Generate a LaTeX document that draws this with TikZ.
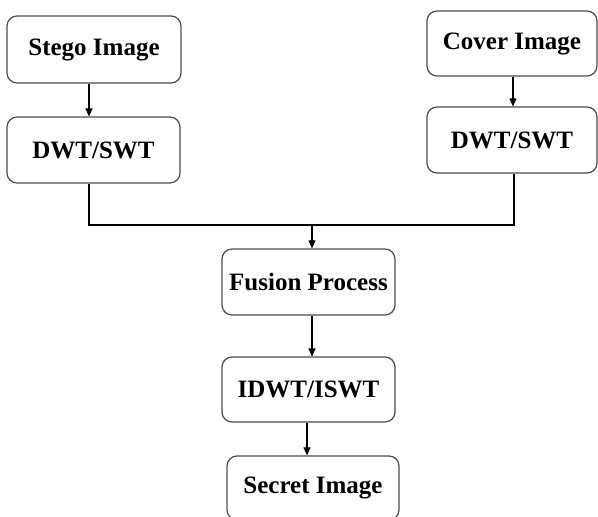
\documentclass[tikz,border=0pt]{standalone}
\usepackage{fontspec}
\setmainfont{Liberation Serif}
\usetikzlibrary{arrows.meta}
\tikzset{
  stepbox/.style={draw=black!70,line width=1.2pt,rounded corners=10pt,fill=white,
    inner sep=0pt,font=\fontsize{25}{30}\selectfont\bfseries},
  flow/.style={line width=1.1pt,-{Triangle[length=8pt,width=7pt]}}
}

\begin{document}
\begin{tikzpicture}[x=1pt,y=-1pt]
            \useasboundingbox (0,0) rectangle (598,517);

            % Left branch
            \node[stepbox,minimum width=174pt,minimum height=67pt] (stego) at (94,49.5) {Stego Image};
            \node[stepbox,minimum width=173pt,minimum height=66pt] (dwtA) at (93.5,150) {DWT/SWT};

            % Right branch
            \node[stepbox,minimum width=170pt,minimum height=65pt] (cover) at (512,43.5) {Cover Image};
            \node[stepbox,minimum width=170pt,minimum height=66pt] (dwtB) at (512,140) {DWT/SWT};

            % Common path
            \node[stepbox,minimum width=173pt,minimum height=66pt] (fusion) at (308.5,282) {Fusion Process};
            \node[stepbox,minimum width=173pt,minimum height=65pt] (idwt) at (308.5,389.5) {IDWT/ISWT};
            \node[stepbox,minimum width=172pt,minimum height=64pt] (secret) at (313,488) {Secret Image};

            \coordinate (merge) at (312,225);
            \coordinate (sA) at ([xshift=-5pt]stego.south);
            \coordinate (sB) at ([xshift=1pt]cover.south);
            \coordinate (dA) at ([xshift=-4.5pt]dwtA.south);
            \coordinate (dB) at ([xshift=2pt]dwtB.south);
            \coordinate (fC) at ([xshift=3.5pt]fusion.south);
            \coordinate (iC) at ([xshift=-1.5pt]idwt.south);

            \draw[flow] (sA) -- (sA |- dwtA.north);
            \draw[flow] (sB) -- (sB |- dwtB.north);
            \draw[line width=1.1pt] (dA) |- (merge) -| (dB);
            \draw[flow] (merge) -- (merge |- fusion.north);
            \draw[flow] (fC) -- (fC |- idwt.north);
            \draw[flow] (iC) -- (iC |- secret.north);
        \end{tikzpicture}
\end{document}
